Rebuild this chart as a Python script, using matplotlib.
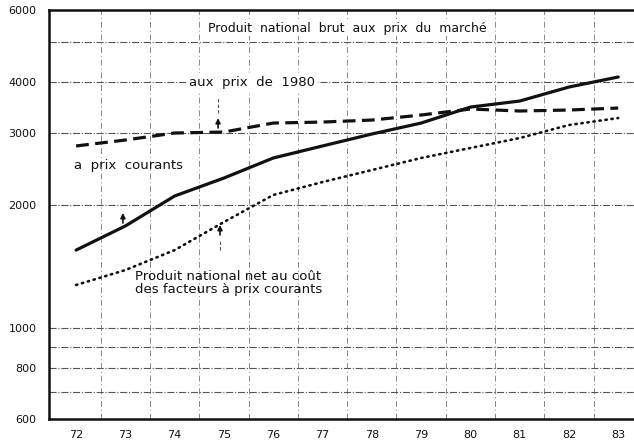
import numpy as np
import matplotlib
matplotlib.use('Agg')
import matplotlib.pyplot as plt

# ── Données (échelle log) ────────────────────────────────────────────────────
years = [72, 73, 74, 75, 76, 77, 78, 79, 80, 81, 82, 83]
pnb_courants = [1553, 1779, 2106, 2330, 2608, 2791, 2985, 3175, 3474, 3594, 3889, 4115]
pnb_1980 = [2791, 2886, 3002, 3019, 3175, 3193, 3229, 3322, 3436, 3398, 3417, 3455]
pnn_facteurs = [1276, 1388, 1553, 1819, 2118, 2278, 2437, 2608, 2759, 2918, 3140, 3266]

ytick_vals = [600, 800, 1000, 2000, 3000, 4000, 6000]
ytick_labels = ['600', '800', '1000', '2000', '3000', '4000', '6000']
hgrid_vals = [700, 800, 900, 1000, 2000, 3000, 4000, 5000]
vgrid_vals = [y + 0.5 for y in years[:-1]]

INK = '#111111'
GRID = '#555555'

fig = plt.figure(figsize=(6.34, 4.45), dpi=100)
ax = fig.add_axes([0.0773, 0.0584, 0.9227, 0.9191])

ax.set_yscale('log')
ax.set_ylim(600, 6000)
ax.set_xlim(71.45, 83.32)

# grille
for v in hgrid_vals:
    ax.axhline(v, color=GRID, lw=0.8, ls='-.', zorder=1)
for v in vgrid_vals:
    ax.axvline(v, color=GRID, lw=0.7, ls=(0, (6, 3, 1, 3)), zorder=1, alpha=0.7)

# courbes
ax.plot(years, pnb_courants, color=INK, lw=2.3, solid_capstyle='round', zorder=3)
ax.plot(years, pnb_1980, color=INK, lw=2.3, ls=(0, (4, 2)), zorder=3)
ax.plot(years, pnn_facteurs, color=INK, lw=1.9, ls=(0, (0.5, 1.8)),
        dash_capstyle='round', zorder=3)

# axes
ax.yaxis.set_minor_locator(matplotlib.ticker.NullLocator())
ax.set_yticks(ytick_vals)
ax.set_yticklabels(ytick_labels)
ax.set_xticks(years)
ax.set_xticklabels([str(y) for y in years])
ax.tick_params(length=0, labelsize=8, colors=INK, pad=8)
ax.tick_params(axis='y', pad=9)
ax.spines['right'].set_visible(False)
for s in ('left', 'top', 'bottom'):
    ax.spines[s].set_linewidth(1.8)
    ax.spines[s].set_color(INK)

# textes
ax.text(0.51, 0.955, 'Produit  national  brut  aux  prix  du  marché',
        transform=ax.transAxes, ha='center', va='center', fontsize=9, color=INK,
        bbox=dict(facecolor='white', edgecolor='none', pad=1))
ax.text(74.3, 4000, 'aux  prix  de  1980', ha='left', va='center', fontsize=9.5,
        color=INK, zorder=4,
        bbox=dict(facecolor='white', edgecolor='none', pad=2))
ax.text(71.95, 2500, 'a  prix  courants', ha='left', va='center', fontsize=9.5, color=INK)
ax.text(73.2, 1290, 'Produit national net au coût\ndes facteurs à prix courants',
        ha='left', va='center', fontsize=9.5, color=INK, linespacing=1.05)

# flèches de renvoi (petites flèches vers le haut, avec trait léger)
arrow = dict(arrowstyle='-|>', color=INK, lw=1.2, mutation_scale=7, shrinkA=0, shrinkB=0)
ax.plot([74.88, 74.88], [3359, 3675], color=GRID, lw=0.8, ls=(0, (3, 2)), zorder=2)
ax.annotate('', xy=(74.88, 3266), xytext=(74.88, 3088), arrowprops=arrow)
ax.annotate('', xy=(72.95, 1914), xytext=(72.95, 1809), arrowprops=arrow)
ax.annotate('', xy=(74.92, 1789), xytext=(74.92, 1691), arrowprops=arrow)
ax.plot([74.92, 74.92], [1553, 1644], color=GRID, lw=0.8, ls=(0, (3, 2)), zorder=2)

fig.savefig('out.png', dpi=100, facecolor='white')
